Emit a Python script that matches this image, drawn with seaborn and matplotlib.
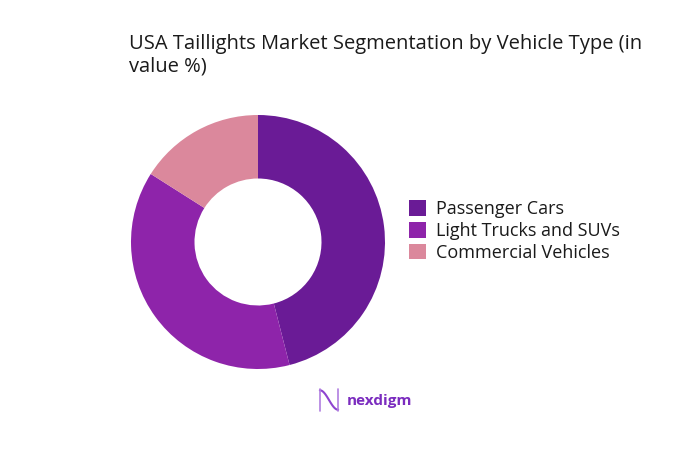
import matplotlib
matplotlib.use("Agg")
import matplotlib.pyplot as plt
import seaborn as sns
import numpy as np

# Data
segments = ["Passenger Cars", "Light Trucks and SUVs", "Commercial Vehicles"]
shares = [46, 38, 16]
colors = ["#6A1B96", "#8E24AA", "#DB889C"]

sns.set_theme(style="white")
plt.rcParams['font.family'] = ['Open Sans', 'DejaVu Sans']

fig = plt.figure(figsize=(6.93, 4.59), dpi=100)
W, H = 693, 459
cx, cy, r = 258, 242, 127
ax = fig.add_axes([(cx - r) / W, (H - cy - r) / H, 2 * r / W, 2 * r / H])

wedges, _ = ax.pie(shares, colors=colors, startangle=90, counterclock=False,
                   wedgeprops=dict(width=0.5, edgecolor="none"), radius=1.0)
ax.set_aspect("equal")
ax.set_xlim(-1, 1)
ax.set_ylim(-1, 1)
ax.axis("off")

# Title
fig.text(129 / W, 1 - 34 / H, "USA Taillights Market Segmentation by Vehicle Type (in\nvalue %)",
         ha="left", va="top", fontsize=14.5, color="#1a1a1a", linespacing=1.17)

# Legend
fig.legend(wedges, segments, loc="center left", bbox_to_anchor=(393 / W, 1 - 231 / H),
           frameon=False, fontsize=13, handlelength=0.95, handleheight=0.95,
           handletextpad=0.55, labelspacing=0.2, labelcolor="#1a1a1a")

# Logo
lx = fig.add_axes([318 / W, 1 - 413 / H, 22 / W, 26 / H])
t = np.linspace(0, 1, 50)
lx.plot(t, 0.5 - 0.45 * np.sin((t - 0.5) * np.pi), color="#8E44D0", lw=1.5)
lx.plot([0, 0], [0, 1], color="#B07EE0", lw=1.2)
lx.plot([1, 1], [0, 1], color="#B07EE0", lw=1.2)
lx.set_xlim(-0.1, 1.1)
lx.set_ylim(-0.1, 1.1)
lx.axis("off")
fig.text(347 / W, 1 - 401 / H, "nexdigm", ha="left", va="center", fontsize=11,
         fontweight="bold", color="#7B2CBF")

fig.savefig("out.png", dpi=100, facecolor="white")
